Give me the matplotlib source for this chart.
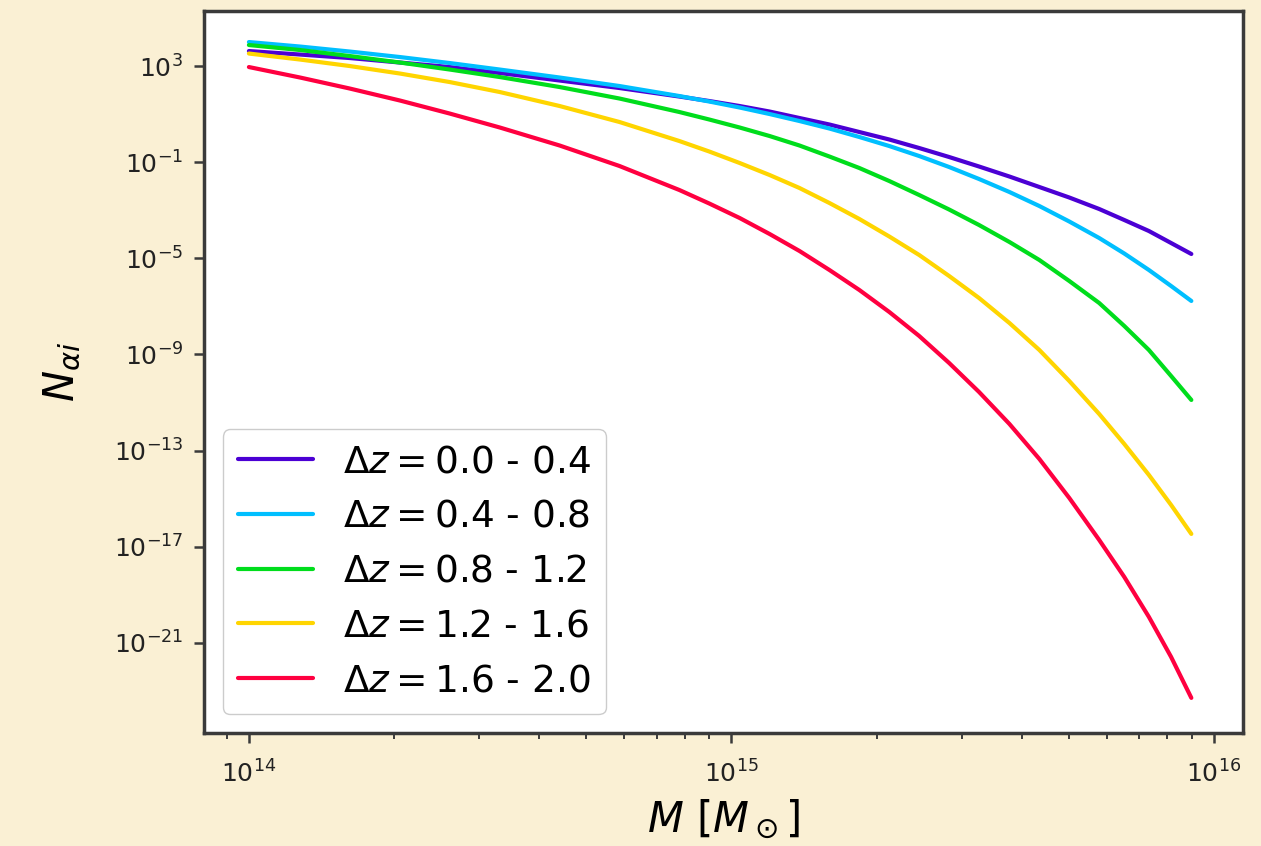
import numpy as np
import matplotlib
matplotlib.use("Agg")
import matplotlib.pyplot as plt
from matplotlib.ticker import LogLocator, NullLocator

# log10 of mass in solar masses
log_mass = np.array([14.000, 14.106, 14.209, 14.313, 14.416, 14.520, 14.644, 14.768, 14.892,
                     14.954, 15.017, 15.079, 15.141, 15.203, 15.265, 15.327, 15.389, 15.451,
                     15.513, 15.576, 15.638, 15.700, 15.762, 15.814, 15.865, 15.911, 15.953])

# log10 of N_alpha_i for each redshift bin
log_n_00_04 = np.array([3.624, 3.478, 3.333, 3.146, 2.958, 2.709, 2.397, 2.085, 1.731,
                        1.544, 1.336, 1.107, 0.837, 0.567, 0.255, -0.057, -0.411, -0.785,
                        -1.180, -1.597, -2.033, -2.470, -2.948, -3.406, -3.864, -4.363, -4.820])
log_n_04_08 = np.array([3.998, 3.811, 3.603, 3.374, 3.125, 2.854, 2.522, 2.168, 1.752,
                        1.523, 1.274, 1.003, 0.712, 0.400, 0.047, -0.328, -0.744, -1.201,
                        -1.700, -2.241, -2.824, -3.468, -4.155, -4.800, -5.486, -6.151, -6.775])
log_n_08_12 = np.array([3.874, 3.666, 3.416, 3.146, 2.855, 2.542, 2.126, 1.648, 1.087,
                        0.775, 0.442, 0.088, -0.307, -0.765, -1.243, -1.784, -2.366, -2.969,
                        -3.614, -4.321, -5.070, -5.943, -6.859, -7.815, -8.814, -9.895, -10.894])
log_n_12_16 = np.array([3.520, 3.270, 3.000, 2.688, 2.334, 1.918, 1.336, 0.671, -0.120,
                        -0.557, -1.035, -1.534, -2.075, -2.699, -3.364, -4.092, -4.862, -5.735,
                        -6.651, -7.691, -8.814, -10.103, -11.476, -12.724, -14.013, -15.261, -16.468])
log_n_16_20 = np.array([2.958, 2.522, 2.064, 1.565, 1.024, 0.442, -0.307, -1.160, -2.158,
                        -2.720, -3.323, -3.988, -4.696, -5.486, -6.318, -7.233, -8.231, -9.354,
                        -10.561, -11.892, -13.348, -14.970, -16.717, -18.256, -19.920, -21.584, -23.290])

labels = [r'$\Delta z = $0.0 - 0.4', r'$\Delta z = $0.4 - 0.8', r'$\Delta z = $0.8 - 1.2',
          r'$\Delta z = $1.2 - 1.6', r'$\Delta z = $1.6 - 2.0']
colors = ['#4b00d4', '#00bfff', '#00dd1c', '#ffd500', '#ff0040']
series = [log_n_00_04, log_n_04_08, log_n_08_12, log_n_12_16, log_n_16_20]

fig = plt.figure(figsize=(12.61, 8.46), dpi=100, facecolor='#faf0d4')
ax = fig.add_axes([0.1618, 0.1336, 0.8239, 0.8534])
ax.set_facecolor('white')

mass = 10 ** log_mass
for vals, lab, col in zip(series, labels, colors):
    ax.plot(mass, 10 ** vals, color=col, lw=3.0, label=lab, solid_capstyle='round',
            solid_joinstyle='round')

ax.set_xscale('log')
ax.set_yscale('log')
ax.set_xlim(10 ** 13.907, 10 ** 16.06)
ax.set_ylim(10 ** -24.75, 10 ** 5.29)
ax.set_yticks([10.0 ** k for k in [3, -1, -5, -9, -13, -17, -21]])
ax.yaxis.set_minor_locator(NullLocator())
ax.xaxis.set_minor_locator(LogLocator(base=10, subs=np.arange(2, 10)))

for s in ax.spines.values():
    s.set_linewidth(2.5)
    s.set_color('#3a3a3a')
ax.tick_params(which='major', length=7, width=1.8, labelsize=18, colors='#3a3a3a',
               labelcolor='#222222')
ax.tick_params(axis='y', which='major', pad=8)
ax.tick_params(axis='x', which='major', pad=13)
ax.tick_params(which='minor', length=4, width=1.4, colors='#3a3a3a')

ax.set_xlabel(r'$M\ [M_\odot]$', fontsize=30, labelpad=7)
ax.set_ylabel(r'$N_{\alpha i}$', fontsize=30, labelpad=22)

leg = ax.legend(loc='lower left', fontsize=27, framealpha=1, edgecolor='#cccccc',
                borderaxespad=0.5)

fig.savefig('out.png', dpi=100, facecolor=fig.get_facecolor())
